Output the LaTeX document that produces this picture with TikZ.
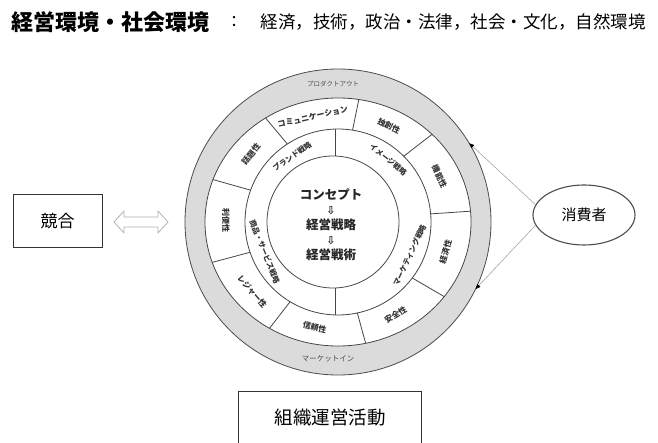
\documentclass[tikz,border=0pt]{standalone}
\usepackage{fontspec}
\setmainfont{Noto Sans CJK JP}
\newfontfamily\arrfont{DejaVu Sans}
\usetikzlibrary{shapes.geometric,arrows.meta,calc}
\begin{document}
\begin{tikzpicture}[x=1pt,y=1pt,
  ln/.style={draw=black!72, line width=0.8pt},
  seglab/.style={font=\fontsize{8}{8}\selectfont\bfseries, text=black!80, inner sep=0pt},
  ringlab/.style={font=\fontsize{7.5}{7.5}\selectfont\bfseries, text=black!80, inner sep=0pt},
  bandlab/.style={font=\fontsize{6.5}{6.5}\selectfont, text=black!70, inner sep=0pt},
  boxnode/.style={draw=black!80, line width=0.9pt, fill=white},
  feed/.style={draw=black!35, line width=0.6pt, -{Triangle[length=5pt,width=4pt,black]}}
]
\useasboundingbox (0,0) rectangle (658,-443);
\fill[white] (0,0) rectangle (658,-443);

% header
\node[anchor=west, inner sep=0pt, font=\fontsize{22}{22}\selectfont\bfseries] (hd) at (11,-22) {経営環境・社会環境};
\node[inner sep=0pt, font=\fontsize{16}{16}\selectfont] (colon) at (234,-22) {：};
\node[anchor=east, inner sep=0pt, font=\fontsize{17.5}{17.5}\selectfont] (env) at (646,-22) {経済，技術，政治・法律，社会・文化，自然環境};

\coordinate (C) at (338,-222);

% outer gray band
\node[circle, draw=black!70, line width=0.8pt, fill=gray!28, minimum size=306pt, inner sep=0pt] (outer) at (C) {};
\fill[white] (C) ellipse [x radius=133, y radius=124];
\draw[ln] (C) ellipse [x radius=133, y radius=124];
\draw[ln] (C) circle [radius=93];

% segment dividers
\foreach \a in {123,81,45,5,-37,-78,-121,-161,160}{
  \draw[ln] ([shift={(\a:93)}]C) -- ([shift={({133*cos(\a)},{124*sin(\a)})}]C);
}

% core circle
\node[circle, draw=black!72, line width=0.8pt, fill=white, minimum size=132pt, inner sep=0pt] (core) at (333,-222) {};
\node[inner sep=0pt, align=center, font=\fontsize{12.5}{15}\selectfont\bfseries, text=black!85] (coretxt) at (331,-225)
  {コンセプト\\{\arrfont\fontsize{11}{15}\selectfont ⇩}\\経営戦略\\{\arrfont\fontsize{11}{15}\selectfont ⇩}\\経営戦術};

% inner ring dividers
\draw[ln] (335,-129) -- (core.north -| 335,0);
\draw[ln] (335,-315) -- (core.south -| 335,0);

% inner ring labels
\node[ringlab, rotate=35] (r1) at ([shift={(125:80)}]C) {ブランド戦略};
\node[ringlab, rotate=-39] (r2) at ([shift={(51:80)}]C) {イメージ戦略};
\node[ringlab, rotate=-68] (r3) at ([shift={(-158:79)}]C) {商品・サービス戦略};
\node[ringlab, rotate=65] (r4) at ([shift={(-25:79)}]C) {マーケティング戦略};

% segment labels
\node[seglab, rotate=13] (s1) at ([shift={({112*cos(103)},{108*sin(103)})}]C) {コミュニケーション};
\node[seglab, rotate=-27] (s2) at ([shift={({112*cos(63)},{108*sin(63)})}]C) {独創性};
\node[seglab, rotate=-65] (s3) at ([shift={({112*cos(25)},{108*sin(25)})}]C) {機能性};
\node[seglab, rotate=74] (s4) at ([shift={({112*cos(-16)},{108*sin(-16)})}]C) {経済性};
\node[seglab, rotate=31] (s5) at ([shift={({112*cos(-59)},{108*sin(-59)})}]C) {安全性};
\node[seglab, rotate=-13] (s6) at ([shift={({112*cos(-102)},{108*sin(-102)})}]C) {信頼性};
\node[seglab, rotate=-49] (s7) at ([shift={({112*cos(-140)},{108*sin(-140)})}]C) {レジャー性};
\node[seglab, rotate=-90] (s8) at ([shift={({112*cos(179)},{108*sin(179)})}]C) {利便性};
\node[seglab, rotate=51] (s9) at ([shift={({112*cos(141)},{108*sin(141)})}]C) {話題性};

% band labels
\node[bandlab] (po) at (333,-84) {プロダクトアウト};
\node[bandlab, font=\fontsize{7.5}{7.5}\selectfont] (mi) at (328,-359) {マーケットイン};

% competition
\node[boxnode, minimum width=89pt, minimum height=53pt, font=\fontsize{17}{17}\selectfont] (comp) at (57.5,-221) {競合};
\coordinate (da) at (141,-222);
\draw[draw=black!30, fill=white, line width=0.8pt, line join=round]
  ([shift={(-27,0)}]da) -- ([shift={(-17,11)}]da) -- ([shift={(-17,5)}]da) -- ([shift={(17,5)}]da)
  -- ([shift={(17,11)}]da) -- ([shift={(27,0)}]da) -- ([shift={(17,-11)}]da) -- ([shift={(17,-5)}]da)
  -- ([shift={(-17,-5)}]da) -- ([shift={(-17,-11)}]da) -- cycle;

% consumer
\node[ellipse, draw=black!70, line width=1.1pt, fill=white, minimum width=102pt, minimum height=60pt,
      font=\fontsize{15}{15}\selectfont] (cons) at (584,-215) {消費者};
\coordinate (t1) at ([shift={(31:153)}]C);
\coordinate (t2) at ([shift={(-26:153)}]C);
\draw[feed] (cons.168) -- (t1);
\draw[feed] (cons.192) -- (t2);

% organisation
\node[minimum width=182pt, minimum height=51pt, inner sep=0pt, font=\fontsize{18.5}{18.5}\selectfont] (org) at (330,-417.5) {組織運営活動};
\draw[draw=black!80, line width=0.9pt] (org.south west) -- (org.north west) -- (org.north east) -- (org.south east);
\end{tikzpicture}
\end{document}
